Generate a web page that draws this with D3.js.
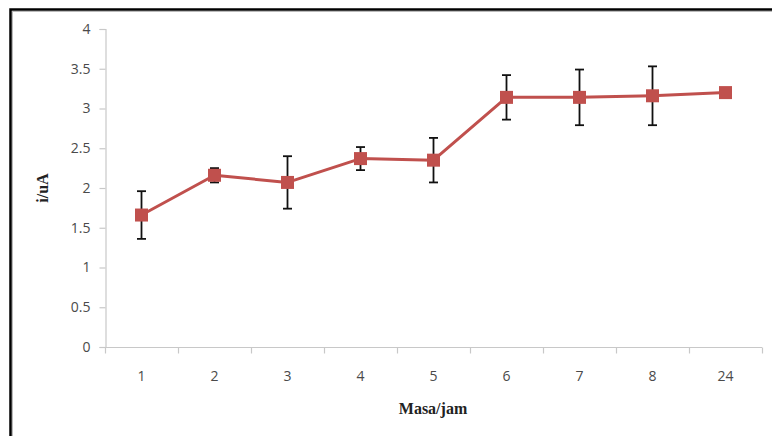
<!DOCTYPE html>
<html>
<head>
<meta charset="utf-8">
<script src="https://cdn.jsdelivr.net/npm/d3@7"></script>
<style>
  html, body { margin: 0; padding: 0; background: #fff; }
  svg { display: block; }
</style>
</head>
<body>
<svg id="chart" width="772" height="436"></svg>
<script>
const categories = ["1", "2", "3", "4", "5", "6", "7", "8", "24"];
const values = [1.66, 2.16, 2.07, 2.37, 2.35, 3.14, 3.14, 3.16, 3.20];
const errors = [0.30, 0.09, 0.33, 0.145, 0.28, 0.28, 0.35, 0.37, 0];
const yTicks = [0, 0.5, 1, 1.5, 2, 2.5, 3, 3.5, 4];
const yTickLabels = ["0", "0.5", "1", "1.5", "2", "2.5", "3", "3.5", "4"];
const xTitle = "Masa/jam";
const yTitle = "i/uA";

(function () {
const svg = d3.select("#chart");
const W = 772, H = 436;
svg.append("rect").attr("width", W).attr("height", H).attr("fill", "#fff");

// outer frame
svg.append("rect").attr("x", 10.5).attr("y", 9.5).attr("width", W + 20).attr("height", H + 20)
  .attr("fill", "none").attr("stroke", "#000").attr("stroke-width", 2.5);
svg.append("rect").attr("x", 12.5).attr("y", 11.5).attr("width", W + 20).attr("height", H + 20)
  .attr("fill", "none").attr("stroke", "#bbb").attr("stroke-width", 1);

const pLeft = 105, pRight = 762, pTop = 29, pBottom = 347;

const x = d3.scaleBand().domain(categories).range([pLeft, pRight]).padding(0);
const y = d3.scaleLinear().domain([0, 4]).range([pBottom, pTop]);

const font = "'Open Sans', 'Liberation Sans', sans-serif";
const axisColor = "#c8c8c8";
const labelColor = "#4a4a4a";

// y axis
const yAxis = d3.axisLeft(y).tickValues(yTicks).tickFormat((d, i) => yTickLabels[i]).tickSize(6).tickPadding(9);
const gy = svg.append("g").attr("transform", `translate(${pLeft + 0.5},0)`).call(yAxis);
gy.select(".domain").attr("stroke", axisColor).attr("stroke-width", 1.2);
gy.selectAll(".tick line").attr("stroke", axisColor).attr("stroke-width", 1.2);
gy.selectAll(".tick text").attr("fill", labelColor).attr("font-family", font).attr("font-size", 14);

// x axis: ticks at category boundaries
const xAxisG = svg.append("g").attr("transform", `translate(0,${pBottom + 0.5})`);
xAxisG.append("line").attr("x1", pLeft).attr("x2", pRight).attr("stroke", axisColor).attr("stroke-width", 1.2);
const boundaries = categories.map(c => x(c)).concat([x(categories[categories.length - 1]) + x.bandwidth()]);
xAxisG.selectAll("line.tk").data(boundaries).join("line").attr("class", "tk")
  .attr("x1", d => d + 0.5).attr("x2", d => d + 0.5).attr("y1", 0).attr("y2", 6)
  .attr("stroke", axisColor).attr("stroke-width", 1.2);
xAxisG.selectAll("text").data(categories).join("text")
  .attr("x", d => x(d) + x.bandwidth() / 2).attr("y", 33)
  .attr("text-anchor", "middle").attr("fill", labelColor)
  .attr("font-family", font).attr("font-size", 14).text(d => d);

// titles
svg.append("text").attr("x", 433).attr("y", 414).attr("text-anchor", "middle")
  .attr("font-family", "'Liberation Serif', 'Times New Roman', serif").attr("font-weight", "bold")
  .attr("font-size", 16).attr("fill", "#222").text(xTitle);
svg.append("text").attr("transform", "translate(48,188) rotate(-90)").attr("text-anchor", "middle")
  .attr("font-family", "'Liberation Serif', 'Times New Roman', serif").attr("font-weight", "bold")
  .attr("font-size", 16).attr("fill", "#222").text(yTitle);

const data = categories.map((c, i) => ({ c, v: values[i], e: errors[i] }));
const cx = d => x(d.c) + x.bandwidth() / 2;
const red = "#C0504D";

// line
svg.append("path").datum(data)
  .attr("d", d3.line().x(cx).y(d => y(d.v)))
  .attr("fill", "none").attr("stroke", red).attr("stroke-width", 3).attr("stroke-linejoin", "round");

// error bars
const eb = svg.append("g").selectAll("g").data(data.filter(d => d.e > 0)).join("g");
eb.append("line").attr("x1", cx).attr("x2", cx)
  .attr("y1", d => y(d.v + d.e)).attr("y2", d => y(d.v - d.e))
  .attr("stroke", "#111").attr("stroke-width", 1.8);
eb.append("line").attr("x1", d => cx(d) - 4.5).attr("x2", d => cx(d) + 4.5)
  .attr("y1", d => y(d.v + d.e)).attr("y2", d => y(d.v + d.e))
  .attr("stroke", "#111").attr("stroke-width", 1.8);
eb.append("line").attr("x1", d => cx(d) - 4.5).attr("x2", d => cx(d) + 4.5)
  .attr("y1", d => y(d.v - d.e)).attr("y2", d => y(d.v - d.e))
  .attr("stroke", "#111").attr("stroke-width", 1.8);

// markers
const ms = 13;
svg.append("g").selectAll("rect").data(data).join("rect")
  .attr("x", d => cx(d) - ms / 2).attr("y", d => y(d.v) - ms / 2)
  .attr("width", ms).attr("height", ms).attr("fill", red);
})();
</script>
</body>
</html>
